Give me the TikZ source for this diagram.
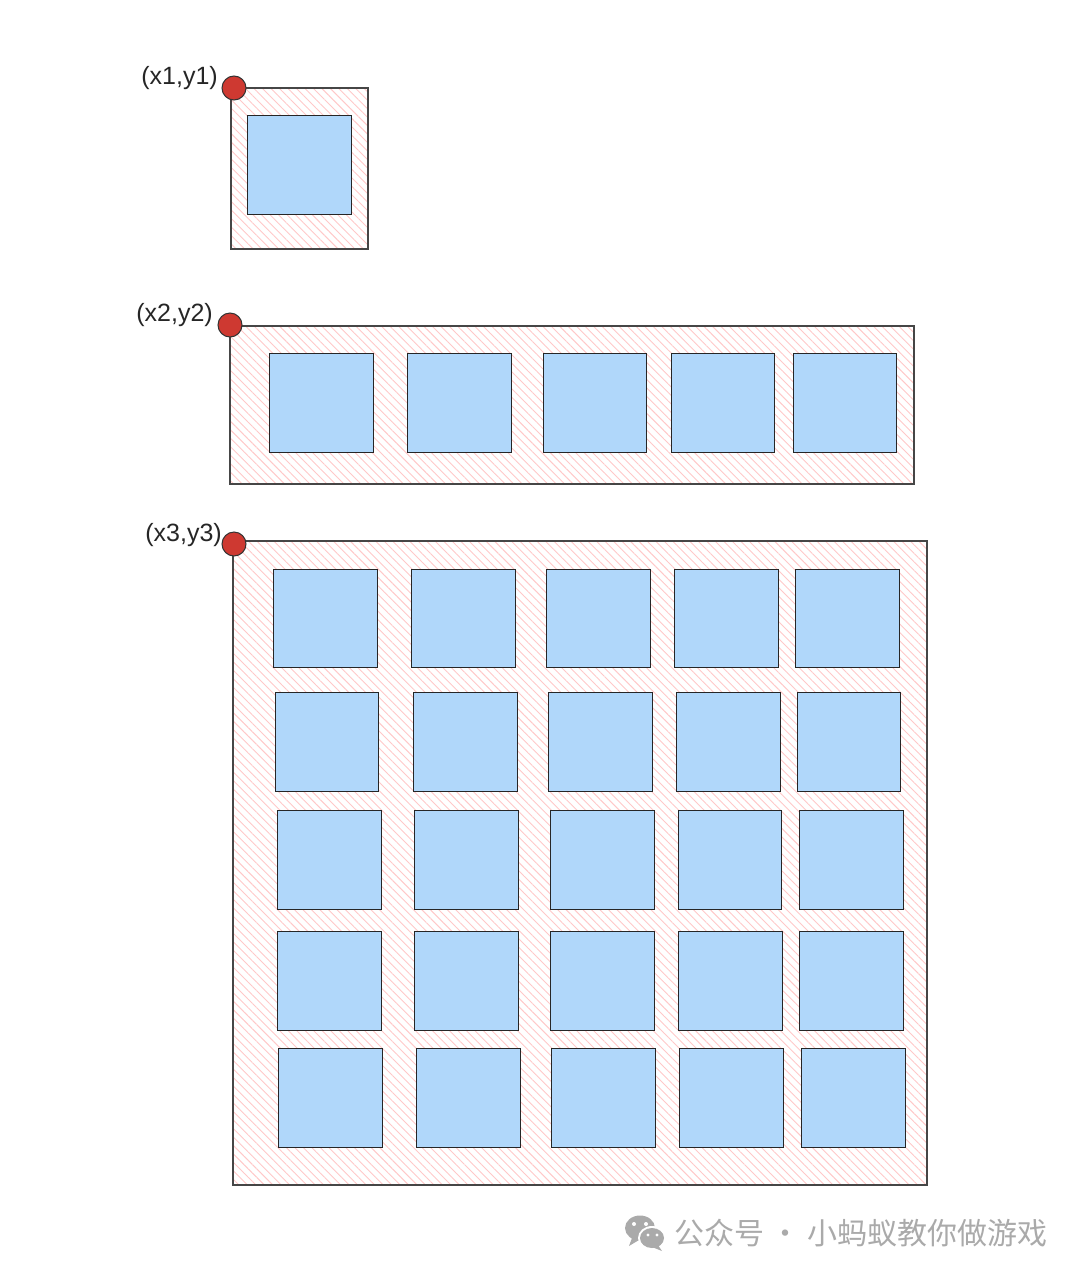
\documentclass[tikz,border=0pt]{standalone}
\usepackage{fontspec}
\setmainfont{Liberation Sans}
\newfontfamily\cjkfont{Noto Sans CJK SC}
\usetikzlibrary{patterns.meta}
\definecolor{cellblue}{RGB}{176,215,250}
\definecolor{hatchpink}{RGB}{255,200,200}
\definecolor{dotred}{RGB}{206,57,49}
\definecolor{edgegray}{RGB}{70,70,70}
\definecolor{wmgray}{RGB}{170,170,170}
\tikzset{
  frame/.style={draw=edgegray, line width=1.1pt,
    pattern={Lines[angle=-45, distance=6pt, line width=0.9pt]}, pattern color=hatchpink},
  cell/.style={draw=black!85, line width=1pt, fill=cellblue},
  corner/.style={circle, draw=black!80, line width=1pt, fill=dotred, minimum size=24pt, inner sep=0pt},
  lbl/.style={font=\fontsize{25}{28}\selectfont, inner sep=0pt, text=black!85},
}
\begin{document}
\begin{tikzpicture}[x=1pt,y=-1pt]
\useasboundingbox (0,0) rectangle (1080,1277);
% frame 1
\path[frame] (231,88) rectangle (368,249);
\path[cell] (247,115) rectangle (351,214);
\node[corner] (d1) at (234,88) {};
\node[lbl, anchor=east] (l1) at (218,78) {(x1,y1)};
% frame 2
\path[frame] (230,326) rectangle (914,484);
\foreach \a/\b [count=\i] in {269/373,407/511,543/646,671/774,793/896}
  \path[cell] (\a,353) rectangle (\b,452);
\node[corner] (d2) at (230,325) {};
\node[lbl, anchor=east] (l2) at (213,315) {(x2,y2)};
% frame 3
\path[frame] (233,541) rectangle (927,1185);
\foreach \a/\b in {273/377,411/515,546/650,674/778,795/899}
  \path[cell] (\a,569) rectangle (\b,667);
\foreach \a/\b in {275/378,413/517,548/652,676/780,797/900}
  \path[cell] (\a,692) rectangle (\b,791);
\foreach \a/\b in {277/381,414/518,550/654,678/781,799/903}
  \path[cell] (\a,810) rectangle (\b,909);
\foreach \a/\b in {277/381,414/518,550/654,678/782,799/903}
  \path[cell] (\a,931) rectangle (\b,1030);
\foreach \a/\b in {278/382,416/520,551/655,679/783,801/905}
  \path[cell] (\a,1048) rectangle (\b,1147);
\node[corner] (d3) at (234,544) {};
\node[lbl, anchor=east] (l3) at (222,535) {(x3,y3)};
% watermark
\fill[wmgray] (640,1228) ellipse (15pt and 12.5pt);
\fill[wmgray] (632,1238) -- (629,1246) -- (639,1240) -- cycle;
\fill[white] (652,1238) ellipse (14pt and 12pt);
\fill[wmgray] (652,1238) ellipse (12pt and 10pt);
\fill[wmgray] (658,1245) -- (662,1251) -- (652,1247) -- cycle;
\fill[white] (634,1224) circle (2pt) (646,1224) circle (2pt) (648,1235) circle (1.6pt) (657,1235) circle (1.6pt);
\node[anchor=west, inner sep=0pt, text=wmgray, font=\cjkfont\fontsize{30}{33}\selectfont] (wm) at (674,1233) {公众号 · 小蚂蚁教你做游戏};
\end{tikzpicture}
\end{document}
